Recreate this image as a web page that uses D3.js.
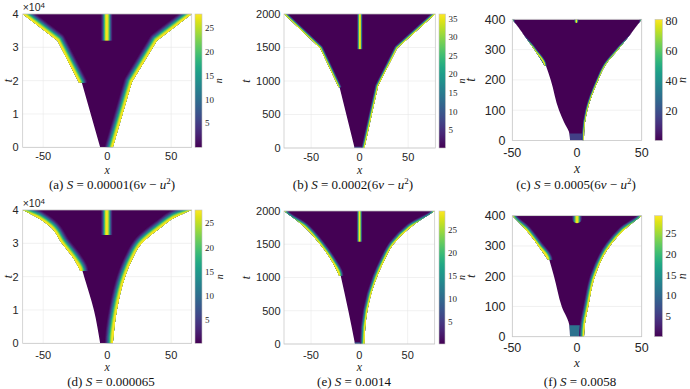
<!DOCTYPE html>
<html><head><meta charset="utf-8">
<script src="https://cdn.jsdelivr.net/npm/d3@7"></script>
<style>body{margin:0;background:#fff} svg{display:block}</style>
</head><body>
<svg id="fig" width="690" height="389"></svg>
<script>
// ---------------- data ----------------
const panelLetters = ["a","b","c","d","e","f"];
const captionCoef = ["0.00001","0.0002","0.0005","0.000065","0.0014","0.0058"];
const captionHasTerm = [true,true,true,false,false,false];
const xDomains = [[-66,66],[-78,78],[-50,50],[-66,66],[-78,78],[-50,50]];
const tMax = [40000,2000,400,40000,2000,400];
const xTicks = [-50,0,50];
const tTicks = [
  [0,10000,20000,30000,40000],[0,500,1000,1500,2000],[0,100,200,300,400],
  [0,10000,20000,30000,40000],[0,500,1000,1500,2000],[0,100,200,300,400]];
const tTickLabels = [
  ["0","1","2","3","4"],["0","500","1000","1500","2000"],["0","100","200","300","400"],
  ["0","1","2","3","4"],["0","500","1000","1500","2000"],["0","100","200","300","400"]];
const uDomains = [[0,27.8],[0.2,36.2],[0,80.7],[0.2,27.75],[0.1,29.1],[0,29.3]];
const uTicks = [[5,10,15,20,25],[5,10,15,20,25,30,35],[20,40,60,80],
                [5,10,15,20,25],[5,10,15,20,25],[5,10,15,20,25]];
// boundaries as [t, x]
const leftLower = [
  [[0,-5.5],[19400,-19.8]],
  [[0,-5.2],[906,-20.7]],
  [[0,-5.4],[20,-5.7],[60,-10],[100,-13.9],[200,-20.3],[247,-24]],
  [[0,-5.5],[10000,-10.4],[20000,-18],[21700,-19.3]],
  [[0,-4.5],[500,-11.4],[1027,-19.3]],
  [[0,-5.4],[35,-5.8],[100,-11.8],[200,-17.8],[254,-21.4]]];
const leftUpper = [
  [[19400,-22],[32000,-38.8],[40000,-66]],
  [[906,-21.7],[1488,-40.7],[2000,-78]],
  [[247,-25],[300,-33],[400,-50]],
  [[21700,-21],[25000,-25.5],[30000,-35.4],[35000,-44.5],[37500,-53.6],[40000,-66]],
  [[1027,-21],[1250,-28.6],[1500,-40.7],[1750,-56],[2000,-78]],
  [[254,-22.5],[300,-29.9],[350,-38.9],[400,-50]]];
const rightFront = [
  [[0,4.4],[19600,19.3],[32000,38.8],[40000,66]],
  [[0,4.9],[925,19],[1488,38.7],[2000,78]],
  [[0,5.4],[25,5.5],[100,8],[200,16.5],[250,22.2],[300,31.9],[400,50]],
  [[0,4.4],[10000,7.6],[20000,14],[25000,19.3],[30000,27],[35000,42.7],[37500,51.8],[40000,66]],
  [[0,5.2],[500,8.3],[1000,18],[1250,25.6],[1500,35.2],[1750,52.5],[2000,78]],
  [[0,5.4],[38,6],[100,8.7],[200,13.9],[300,25.5],[350,35.8],[400,50]]];
const stripeStart = [32000,1475,388,32500,1538,375];
const stripeCenter = [-0.3,0.2,-0.5,-0.3,0.2,0];
const stripeHalfWidth = [4.5,3,1.8,4.5,3,3.9];
const stripeProfile = [0.02,0.12,0.35,0.7,0.95,1,0.95,0.7,0.35,0.12,0.02];
const edgeProfile = [1,0.97,0.86,0.7,0.52,0.36,0.22,0.11,0.04];
const patchTop = [0,20,23,0,25,38];
const patchValue = [0,8,15,0,8,11];

// ---------------- layout ----------------
const frames = [
  {x0:22.7,x1:191.7,y0:14,y1:147.3,cbx:195,cbw:7,edge:8,tick:11,cbTick:9,xl:12,xtB:160,xlB:173.5,capB:189,capX:112,tlX:8,ytR:18.5,uX:220,big:false,exp:true,smooth:false},
  {x0:284,x1:435.3,y0:14,y1:148,cbx:439,cbw:6.5,edge:3,tick:11,cbTick:9,xl:12,xtB:161,xlB:174,capB:189,capX:353,tlX:246,ytR:280.5,uX:463,big:false,exp:false,smooth:false},
  {x0:512.3,x1:641.7,y0:19.3,y1:140.5,cbx:655,cbw:7.5,edge:2.2,tick:12.5,cbTick:12,xl:14,xtB:157,xlB:172.5,capB:189,capX:576,tlX:471,ytR:505.5,uX:684,big:true,exp:false,smooth:true},
  {x0:22.7,x1:191.7,y0:210,y1:343.3,cbx:195,cbw:7,edge:8,tick:11,cbTick:9,xl:12,xtB:358.5,xlB:370.5,capB:386,capX:111,tlX:8,ytR:18.5,uX:221,big:false,exp:true,smooth:true},
  {x0:284,x1:434.7,y0:211,y1:344,cbx:439,cbw:6,edge:4.5,tick:11,cbTick:9,xl:12,xtB:358.5,xlB:371,capB:386,capX:354,tlX:246,ytR:280.5,uX:463,big:false,exp:false,smooth:true},
  {x0:512.3,x1:641.7,y0:215.7,y1:336.7,cbx:654.5,cbw:8,edge:5,tick:12.5,cbTick:11,xl:13,xtB:351.5,xlB:367,capB:386,capX:580,tlX:471,ytR:505.5,uX:684,big:true,exp:false,smooth:true}];

const SANS = "'Liberation Sans', Arial, Helvetica, sans-serif";
const SERIF = "'Liberation Serif', 'Times New Roman', serif";
const TXT = "#262626";

const svg = d3.select("#fig");
const defs = svg.append("defs");
const cbGrad = defs.append("linearGradient").attr("id","viridisV")
  .attr("x1",0).attr("y1",1).attr("x2",0).attr("y2",0);
d3.range(0,1.0001,0.05).forEach(s=>cbGrad.append("stop").attr("offset",s).attr("stop-color",d3.interpolateViridis(s)));

panelLetters.forEach((L,i)=>{
  const F = frames[i];
  const xs = d3.scaleLinear().domain(xDomains[i]).range([F.x0,F.x1]);
  const ts = d3.scaleLinear().domain([0,tMax[i]]).range([F.y1,F.y0]);
  const [uMin,uMax] = uDomains[i];
  const cs = d3.scaleSequential(d3.interpolateViridis).domain([uMin,uMax]);
  const frac = f => cs(uMin + f*(uMax-uMin));
  const line = d3.line().x(p=>xs(p[1])).y(p=>ts(p[0]))
    .curve(F.smooth ? d3.curveMonotoneY : d3.curveLinear);
  const g = svg.append("g");

  // grid
  g.selectAll(null).data(xTicks).join("line")
    .attr("x1",d=>xs(d)).attr("x2",d=>xs(d)).attr("y1",F.y0).attr("y2",F.y1)
    .attr("stroke","#e8e8e8").attr("stroke-width",0.6);
  g.selectAll(null).data(tTicks[i]).join("line")
    .attr("x1",F.x0).attr("x2",F.x1).attr("y1",d=>ts(d)).attr("y2",d=>ts(d))
    .attr("stroke","#e8e8e8").attr("stroke-width",0.6);

  // clip paths
  const wedgeD = line(leftLower[i]) + "L" + line(leftUpper[i]).slice(1) + "L" +
                 line(rightFront[i].slice().reverse()).slice(1) + "Z";
  defs.append("clipPath").attr("id","plot"+L).append("rect")
    .attr("x",F.x0).attr("y",F.y0).attr("width",F.x1-F.x0).attr("height",F.y1-F.y0);
  defs.append("clipPath").attr("id","wedge"+L).append("path").attr("d",wedgeD);
  const kinkT = leftUpper[i][0][0];
  defs.append("clipPath").attr("id","upper"+L).append("rect")
    .attr("x",F.x0-10).attr("y",F.y0-10).attr("width",F.x1-F.x0+20).attr("height",ts(kinkT)-F.y0+10);

  const outer = g.append("g").attr("clip-path",`url(#plot${L})`);
  const img = outer.append("g").attr("clip-path",`url(#wedge${L})`);
  img.append("rect").attr("x",F.x0).attr("y",F.y0).attr("width",F.x1-F.x0).attr("height",F.y1-F.y0)
    .attr("fill",cs(uMin));
  if (patchTop[i] > 0) {
    const ph = ts(0)-ts(patchTop[i]);
    img.append("rect").attr("x",xs(-12)).attr("width",xs(12)-xs(-12))
      .attr("y",ts(patchTop[i])).attr("height",ph+10).attr("rx",F.big?3:0)
      .attr("fill",cs(patchValue[i]));
  }
  const drawEdge = (parent, pts) => {
    const n = pts.length;
    const ext = [[pts[0][0]-tMax[i], pts[0][1]], ...pts, [pts[n-1][0]+tMax[i], pts[n-1][1]]];
    const m = edgeProfile.length;
    for (let k = m-1; k >= 0; k--) {
      parent.append("path").attr("d",line(ext)).attr("fill","none")
        .attr("stroke",frac(edgeProfile[k]))
        .attr("stroke-width",2*F.edge*(k+1)/m)
        .attr("stroke-linejoin","round");
    }
  };
  drawEdge(img, rightFront[i]);
  drawEdge(img.append("g").attr("clip-path",`url(#upper${L})`), leftUpper[i]);

  // central stripe
  const sg = defs.append("linearGradient").attr("id","stripe"+L).attr("x1",0).attr("x2",1).attr("y1",0).attr("y2",0);
  stripeProfile.forEach((f,k)=>sg.append("stop").attr("offset",k/(stripeProfile.length-1)).attr("stop-color",frac(f)));
  const sx0 = xs(stripeCenter[i]-stripeHalfWidth[i]), sx1 = xs(stripeCenter[i]+stripeHalfWidth[i]);
  const sy1 = ts(stripeStart[i]);
  img.append("rect").attr("x",sx0).attr("width",sx1-sx0)
    .attr("y",F.big ? F.y0-(sx1-sx0)/2 : F.y0).attr("height",F.big ? sy1-F.y0+(sx1-sx0)/2 : sy1-F.y0)
    .attr("rx",F.big ? (sx1-sx0)/2 : 0)
    .attr("fill",`url(#stripe${L})`);

  // frame
  g.append("rect").attr("x",F.x0).attr("y",F.y0).attr("width",F.x1-F.x0).attr("height",F.y1-F.y0)
    .attr("fill","none").attr("stroke","#c4c4c4").attr("stroke-width",0.7);

  // tick labels
  g.selectAll(null).data(xTicks).join("text")
    .attr("x",d=>xs(d)).attr("y",F.xtB).attr("text-anchor","middle")
    .attr("font-family",SANS).attr("font-size",F.tick).attr("fill",TXT)
    .text(d=>d<0 ? "-"+Math.abs(d) : d);
  g.selectAll(null).data(tTicks[i]).join("text")
    .attr("x",F.ytR).attr("y",d=>ts(d)).attr("dy","0.36em").attr("text-anchor","end")
    .attr("font-family",SANS).attr("font-size",F.tick).attr("fill",TXT)
    .text((d,k)=>tTickLabels[i][k]);
  if (F.exp) {
    const e = g.append("text").attr("x",F.x0).attr("y",F.y0-3).attr("font-family",SANS)
      .attr("font-size",10.5).attr("fill",TXT);
    e.append("tspan").text("\u00d710");
    e.append("tspan").attr("dy",-3.5).attr("font-size",8).text("4");
  }
  // axis labels
  g.append("text").attr("x",(F.x0+F.x1)/2).attr("y",F.xlB).attr("text-anchor","middle")
    .attr("font-family",SERIF).attr("font-style","italic").attr("font-size",F.xl).attr("fill",TXT).text("x");
  g.append("text").attr("transform",`translate(${F.tlX},${(F.y0+F.y1)/2}) rotate(-90)`)
    .attr("text-anchor","middle").attr("dy","0.3em")
    .attr("font-family",SERIF).attr("font-style","italic").attr("font-size",F.xl).attr("fill",TXT).text("t");

  // colorbar
  const cbs = d3.scaleLinear().domain([uMin,uMax]).range([F.y1,F.y0]);
  g.append("rect").attr("x",F.cbx).attr("y",F.y0).attr("width",F.cbw).attr("height",F.y1-F.y0)
    .attr("fill","url(#viridisV)").attr("stroke","#c4c4c4").attr("stroke-width",0.6);
  g.selectAll(null).data(uTicks[i]).join("text")
    .attr("x",F.cbx+F.cbw+3).attr("y",d=>cbs(d)).attr("dy","0.35em")
    .attr("font-family",SERIF).attr("font-size",F.cbTick).attr("fill",TXT).text(d=>d);
  g.append("text").attr("transform",`translate(${F.uX},${(F.y0+F.y1)/2}) rotate(90)`)
    .attr("text-anchor","middle").attr("dy","0.3em")
    .attr("font-family",SERIF).attr("font-style","italic").attr("font-size",F.big?12:10).attr("fill",TXT).text("u");

  // caption
  const c = g.append("text").attr("x",F.capX).attr("y",F.capB).attr("text-anchor","middle")
    .attr("font-family",SERIF).attr("font-size",13).attr("fill","#111");
  c.append("tspan").text(`(${L}) `);
  c.append("tspan").attr("font-style","italic").text("S");
  c.append("tspan").text(" = " + captionCoef[i] + (captionHasTerm[i] ? "(6" : ""));
  if (captionHasTerm[i]) {
    c.append("tspan").attr("font-style","italic").text("v");
    c.append("tspan").text(" \u2212 ");
    c.append("tspan").attr("font-style","italic").text("u");
    c.append("tspan").attr("dy",-5).attr("font-size",9).text("2");
    c.append("tspan").attr("dy",5).text(")");
  }
});
</script>
</body></html>
